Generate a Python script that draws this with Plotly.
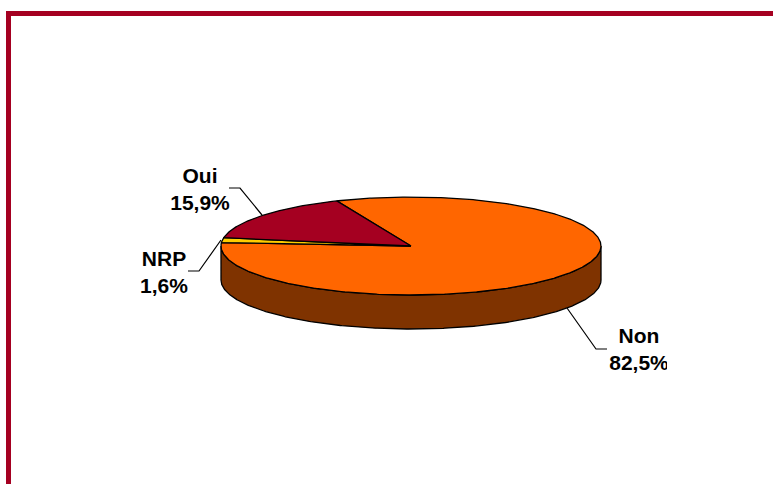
import numpy as np
import plotly.graph_objects as go

# Survey answers, in percent, clockwise from the start angle
categories = ["Non", "NRP", "Oui"]
values = [82.5, 1.6, 15.9]
labels = ["Non<br>82,5%", "NRP<br>1,6%", "Oui<br>15,9%"]
slice_colors = ["#FF6600", "#FFCC00", "#A50021"]
side_color = "#7F3300"
frame_color = "#A50021"

# Tilted disc geometry, in page pixels
CX, CY = 411, 246
RX, RY = 190, 49
DEPTH = 34
START_DEG = 337  # clockwise from twelve o'clock

label_pos = [(639, 351), (164, 274), (200, 191)]
leaders = [
    ([567, 596, 607], [308, 349, 349]),
    ([188, 199, 221], [271, 271, 240]),
    ([229, 240, 262], [188, 188, 215]),
]


def rim(a0, a1, dy=0):
    """Points along the ellipse between two clockwise angles, in degrees."""
    t = np.radians(np.linspace(a0, a1, max(int(abs(a1 - a0)) * 2, 2)))
    return CX + RX * np.sin(t), CY - RY * np.cos(t) + dy


fig = go.Figure()

# Visible side wall: the lower half of the rim, extruded downward
xt, yt = rim(90, 270)
xb, yb = rim(270, 90, DEPTH)
fig.add_trace(go.Scatter(
    x=np.r_[xt, xb, xt[0]], y=np.r_[yt, yb, yt[0]],
    mode="lines", fill="toself", fillcolor=side_color,
    line=dict(color="black", width=1.3), hoverinfo="skip",
))

# Top face, one wedge per answer
angle = START_DEG
for name, val, col in zip(categories, values, slice_colors):
    sweep = val * 3.6
    x, y = rim(angle, angle + sweep)
    fig.add_trace(go.Scatter(
        x=np.r_[CX, x, CX], y=np.r_[CY, y, CY], name=name,
        mode="lines", fill="toself", fillcolor=col,
        line=dict(color="black", width=1.3), hoverinfo="skip",
    ))
    angle += sweep

# Leader lines from the labels to the disc
for lx, ly in leaders:
    fig.add_trace(go.Scatter(
        x=lx, y=ly, mode="lines",
        line=dict(color="black", width=1.2), hoverinfo="skip",
    ))

# Category and percentage labels
fig.add_trace(go.Scatter(
    x=[p[0] for p in label_pos], y=[p[1] for p in label_pos],
    text=labels, mode="text", textposition="middle center", cliponaxis=False,
    textfont=dict(family="Liberation Sans", size=21, color="black", weight="bold"),
    hoverinfo="skip",
))

fig.update_layout(
    width=773, height=484, margin=dict(l=0, r=0, t=0, b=0),
    paper_bgcolor="white", plot_bgcolor="white", showlegend=False,
    xaxis=dict(range=[0, 773], visible=False, fixedrange=True),
    yaxis=dict(range=[484, 0], visible=False, fixedrange=True),
    shapes=[
        # Frame along the top and left edges
        dict(type="rect", x0=6, x1=773, y0=11, y1=16, fillcolor=frame_color,
             line_width=0, layer="above"),
        dict(type="rect", x0=6, x1=11, y0=11, y1=484, fillcolor=frame_color,
             line_width=0, layer="above"),
        # The text box ends here, cutting the last glyph
        dict(type="rect", x0=667, x1=700, y0=350, y1=380, fillcolor="white",
             line_width=0, layer="above"),
    ],
)

fig.write_html("out.html", config=dict(displayModeBar=False))
